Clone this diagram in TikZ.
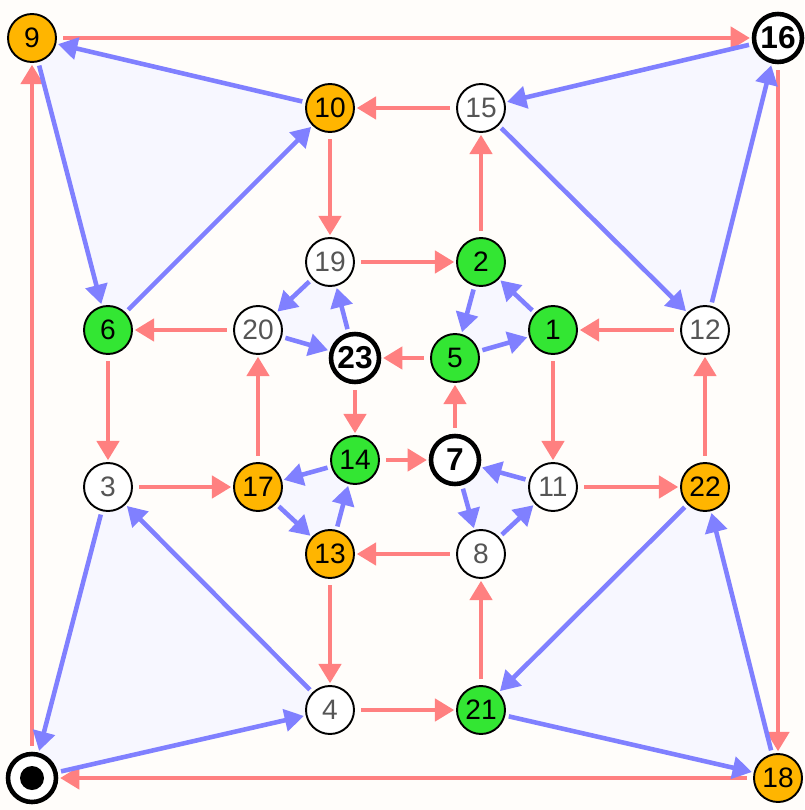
\documentclass[tikz,border=0pt]{standalone}
\usepackage{fontspec}
\setmainfont{Liberation Sans}
\usetikzlibrary{arrows.meta}
\definecolor{bgcream}{RGB}{255,253,250}
\definecolor{vorange}{RGB}{255,181,0}
\definecolor{vgreen}{RGB}{51,230,51}
\definecolor{ered}{RGB}{255,128,128}
\definecolor{eblue}{RGB}{128,128,255}
\definecolor{tfill}{RGB}{247,247,255}
\definecolor{lgray}{RGB}{85,85,85}

\begin{document}
\begin{tikzpicture}[
  x=0.02cm, y=-0.02cm,
  vtx/.style={circle, draw=black, line width=1.1pt, minimum size=0.96cm, inner sep=0pt, font=\fontsize{16}{17}\selectfont},
  plain/.style={vtx, fill=white, text=lgray},
  orng/.style={vtx, fill=vorange},
  grn/.style={vtx, fill=vgreen},
  mark node/.style={vtx, fill=white, line width=2.6pt, font=\fontsize{18}{19}\selectfont\bfseries},
  redarrow/.style={-{Triangle[length=11pt,width=12.5pt]}, draw=ered, line width=2.6pt, shorten <=3.5pt, shorten >=1pt},
  bluearrow/.style={-{Triangle[length=11pt,width=12.5pt]}, draw=eblue, line width=2.6pt, shorten <=2pt, shorten >=1pt},
  face/.style={fill=tfill}
  ]
  \fill[bgcream] (0,0) rectangle (804,810);
  \useasboundingbox (0,0) rectangle (804,810);

  % shaded triangles
  \fill[face] (32,38) -- (108,330) -- (330,108) -- cycle;
  \fill[face] (778,38) -- (481,108) -- (705,330) -- cycle;
  \fill[face] (705,487) -- (481,710) -- (778,778) -- cycle;
  \fill[face] (108,487) -- (32,778) -- (330,710) -- cycle;
  \fill[face] (330,262) -- (258,330) -- (355,358) -- cycle;
  \fill[face] (481,262) -- (455,358) -- (553,330) -- cycle;
  \fill[face] (553,487) -- (455,460) -- (481,554) -- cycle;
  \fill[face] (258,487) -- (330,554) -- (355,460) -- cycle;

  % vertices
  \node[orng] (n9) at (32,38) {9};
  \node[mark node] (n16) at (778,38) {16};
  \node[orng] (n10) at (330,108) {10};
  \node[plain] (n15) at (481,108) {15};
  \node[plain] (n19) at (330,262) {19};
  \node[grn] (n2) at (481,262) {2};
  \node[grn] (n6) at (108,330) {6};
  \node[plain] (n20) at (258,330) {20};
  \node[mark node] (n23) at (355,358) {23};
  \node[grn] (n5) at (455,358) {5};
  \node[grn] (n1) at (553,330) {1};
  \node[plain] (n12) at (705,330) {12};
  \node[plain] (n3) at (108,487) {3};
  \node[orng] (n17) at (258,487) {17};
  \node[grn] (n14) at (355,460) {14};
  \node[mark node] (n7) at (455,460) {7};
  \node[plain] (n11) at (553,487) {11};
  \node[orng] (n22) at (705,487) {22};
  \node[orng] (n13) at (330,554) {13};
  \node[plain] (n8) at (481,554) {8};
  \node[plain] (n4) at (330,710) {4};
  \node[grn] (n21) at (481,710) {21};
  \node[mark node] (n0) at (32,778) {};
  \fill (n0.center) circle (12);
  \node[orng] (n18) at (778,778) {18};

  % red cycles
  \draw[redarrow] (n9) -- (n16);
  \draw[redarrow] (n16) -- (n18);
  \draw[redarrow] (n18) -- (n0);
  \draw[redarrow] (n0) -- (n9);
  \draw[redarrow] (n15) -- (n10);
  \draw[redarrow] (n10) -- (n19);
  \draw[redarrow] (n19) -- (n2);
  \draw[redarrow] (n2) -- (n15);
  \draw[redarrow] (n20) -- (n6);
  \draw[redarrow] (n6) -- (n3);
  \draw[redarrow] (n3) -- (n17);
  \draw[redarrow] (n17) -- (n20);
  \draw[redarrow] (n12) -- (n1);
  \draw[redarrow] (n1) -- (n11);
  \draw[redarrow] (n11) -- (n22);
  \draw[redarrow] (n22) -- (n12);
  \draw[redarrow] (n13) -- (n4);
  \draw[redarrow] (n4) -- (n21);
  \draw[redarrow] (n21) -- (n8);
  \draw[redarrow] (n8) -- (n13);
  \draw[redarrow] (n5) -- (n23);
  \draw[redarrow] (n23) -- (n14);
  \draw[redarrow] (n14) -- (n7);
  \draw[redarrow] (n7) -- (n5);

  % blue triangles
  \draw[bluearrow] (n9) -- (n6);
  \draw[bluearrow] (n6) -- (n10);
  \draw[bluearrow] (n10) -- (n9);
  \draw[bluearrow] (n16) -- (n15);
  \draw[bluearrow] (n15) -- (n12);
  \draw[bluearrow] (n12) -- (n16);
  \draw[bluearrow] (n22) -- (n21);
  \draw[bluearrow] (n21) -- (n18);
  \draw[bluearrow] (n18) -- (n22);
  \draw[bluearrow] (n3) -- (n0);
  \draw[bluearrow] (n0) -- (n4);
  \draw[bluearrow] (n4) -- (n3);
  \draw[bluearrow] (n19) -- (n20);
  \draw[bluearrow] (n20) -- (n23);
  \draw[bluearrow] (n23) -- (n19);
  \draw[bluearrow] (n2) -- (n5);
  \draw[bluearrow] (n5) -- (n1);
  \draw[bluearrow] (n1) -- (n2);
  \draw[bluearrow] (n11) -- (n7);
  \draw[bluearrow] (n7) -- (n8);
  \draw[bluearrow] (n8) -- (n11);
  \draw[bluearrow] (n17) -- (n13);
  \draw[bluearrow] (n13) -- (n14);
  \draw[bluearrow] (n14) -- (n17);
\end{tikzpicture}
\end{document}
